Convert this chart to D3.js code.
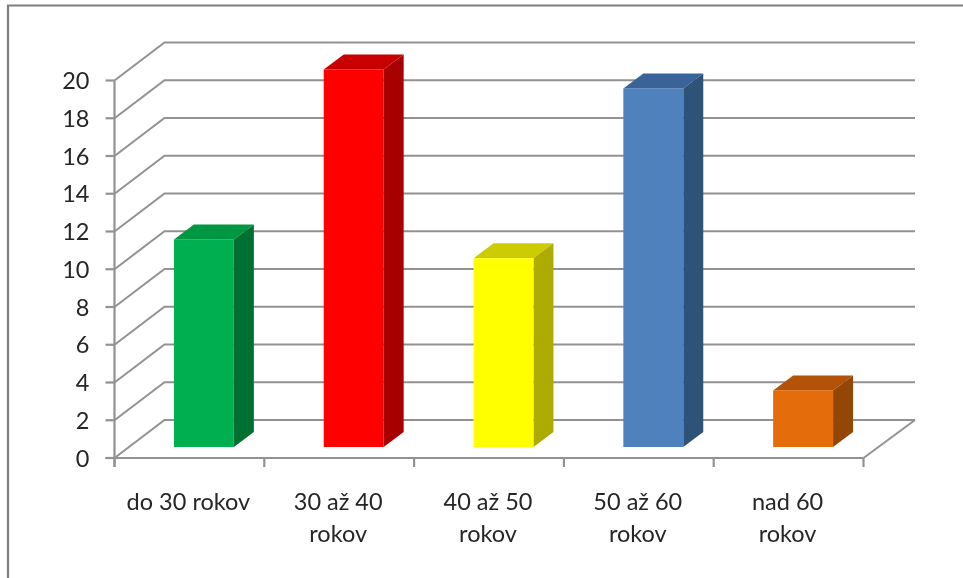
<!DOCTYPE html>
<html><head><meta charset="utf-8">
<script src="https://cdn.jsdelivr.net/npm/d3@7/dist/d3.min.js"></script>
<style>html,body{margin:0;padding:0;background:#fff;overflow:hidden}svg{display:block}text{font-family:Lato,"Open Sans",sans-serif;fill:#262626}</style>
</head><body><svg id="c" width="963" height="578"></svg>
<script>
const categories = [["do 30 rokov"],["30 až 40","rokov"],["40 až 50","rokov"],["50 až 60","rokov"],["nad 60","rokov"]];
const values = [11,20,10,19,3];
const frontColors = ["#00B050","#FF0000","#FFFF00","#4F81BD","#E46C0A"];
const sideColors = ["#007032","#A80000","#ABAB00","#2F5279","#944606"];
const topColors = ["#009743","#C80000","#CCCC00","#3A6499","#B25308"];
const yTicks = d3.range(0,21,2);

const svg = d3.select("#c");
const gridColor = "#929292";
const wall = {dx:50, dy:-38};
const barOff = {dx:15, dy:-11};
const depth = {dx:20, dy:-15};

const y = d3.scaleLinear().domain([0,20]).range([458,80.5]);
const x = d3.scaleBand().domain(d3.range(values.length)).range([114.5,863.5]).paddingInner(0.6).paddingOuter(0.3);
const x0 = 114.5, x1 = 863.5;

const root = svg.append("g").style("filter","blur(0.45px)");

// frame
root.append("path").attr("d","M8,578V5.5H963").attr("fill","none").attr("stroke","#7f7f7f").attr("stroke-width",2.2);

// wall and floor gridlines
yTicks.forEach(t=>{
  const yy=y(t);
  root.append("path")
    .attr("d",`M${x0},${yy}L${x0+wall.dx},${yy+wall.dy}H${x1+wall.dx+1.5}`)
    .attr("fill","none").attr("stroke",gridColor).attr("stroke-width",2);
});
// floor right edge
root.append("path").attr("d",`M${x1},${y(0)}L${x1+wall.dx+1.5},${y(0)+wall.dy}`)
  .attr("fill","none").attr("stroke",gridColor).attr("stroke-width",2);

// axes
root.append("path").attr("d",`M${x0},${y(20)}V${y(0)+9}`).attr("stroke",gridColor).attr("stroke-width",2.2).attr("fill","none");
root.append("path").attr("d",`M${x0-9},${y(0)}H${x1}`).attr("stroke",gridColor).attr("stroke-width",2.2).attr("fill","none");
yTicks.forEach(t=>{
  root.append("path").attr("d",`M${x0-9},${y(t)}H${x0}`).attr("stroke",gridColor).attr("stroke-width",2.2);
  root.append("text").attr("x",x0-25).attr("y",y(t)+8.5).attr("text-anchor","end").attr("font-size",23.5).text(t);
});
d3.range(values.length+1).forEach(i=>{
  const tx = x0+i*x.step();
  root.append("path").attr("d",`M${tx},${y(0)}V${y(0)+9}`).attr("stroke",gridColor).attr("stroke-width",2.2);
});

// bars
values.forEach((v,i)=>{
  const l = x(i)+barOff.dx-0.5, w = x.bandwidth(), r = l+w;
  const b = y(0)+barOff.dy, t = y(v)+barOff.dy;
  const g = root.append("g");
  g.append("path").attr("fill",topColors[i])
    .attr("d",`M${l},${t}L${l+depth.dx},${t+depth.dy}H${r+depth.dx}L${r},${t}Z`);
  g.append("path").attr("fill",sideColors[i])
    .attr("d",`M${r},${t}L${r+depth.dx},${t+depth.dy}V${b+depth.dy}L${r},${b}Z`);
  g.append("rect").attr("x",l).attr("y",t).attr("width",w).attr("height",b-t).attr("fill",frontColors[i]);
});

// category labels
categories.forEach((lines,i)=>{
  const cx = x(i)+x.bandwidth()/2-1;
  lines.forEach((s,j)=>{
    root.append("text").attr("x",cx).attr("y",510+j*32).attr("text-anchor","middle").attr("font-size",23.5).text(s);
  });
});
</script></body></html>
